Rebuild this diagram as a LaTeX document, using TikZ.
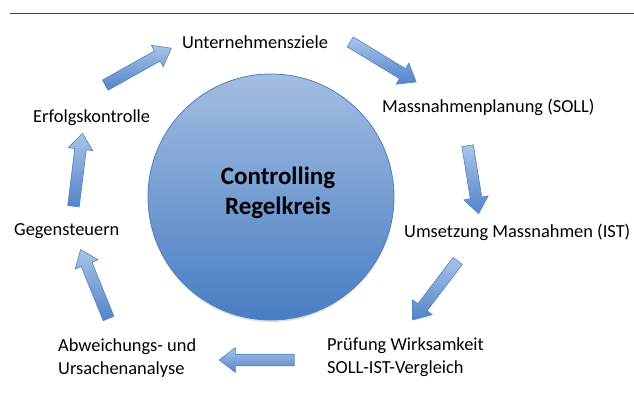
\documentclass[tikz,border=0pt]{standalone}
\usepackage{fontspec}
\setmainfont{Carlito}
\usetikzlibrary{calc,shapes.arrows,shadows}

\definecolor{kreisoben}{HTML}{A3BDE2}
\definecolor{kreisunten}{HTML}{487DC3}
\definecolor{kreisrand}{HTML}{4F81BD}
\definecolor{pfeilhell}{HTML}{A9C4E8}
\definecolor{pfeildunkel}{HTML}{5283C9}
\definecolor{pfeilrand}{HTML}{5282BF}

\begin{document}
\begin{tikzpicture}[x=1pt,y=-1pt,
    stage/.style={font=\fontsize{18.4}{22.5}\selectfont, inner sep=0pt, align=left, anchor=west},
    pfeil/.style={single arrow, draw=pfeilrand, line width=0.6pt,
      top color=pfeilhell, bottom color=pfeildunkel,
      inner xsep=0pt, inner ysep=5.5pt,
      single arrow head extend=6.5pt, single arrow tip angle=75}]
  \useasboundingbox (0,0) rectangle (634,401);
  \draw[line width=1pt, black!75] (10,14) -- (634,14);

  % Kreis in der Mitte
  \node[circle, minimum size=246pt, draw=kreisrand, line width=0.8pt,
    top color=kreisoben, bottom color=kreisunten,
    drop shadow={shadow xshift=0pt, shadow yshift=-2pt, opacity=0.25}] (kreis) at (271,197) {};
  \node[font=\fontsize{25}{30}\selectfont\bfseries, align=center] (titel) at (278,193) {Controlling\\Regelkreis};

  % Stationen
  \node[stage, anchor=center] (ziele) at (255,42) {Unternehmensziele};
  \node[stage] (planung) at (382,107) {Massnahmenplanung (SOLL)};
  \node[stage] (umsetzung) at (404,232) {Umsetzung Massnahmen (IST)};
  \node[stage] (pruefung) at (327,357) {Prüfung Wirksamkeit\\SOLL-IST-Vergleich};
  \node[stage] (analyse) at (58,358) {Abweichungs- und\\Ursachenanalyse};
  \node[stage] (gegen) at (14,231) {Gegensteuern};
  \node[stage] (erfolg) at (33,118) {Erfolgskontrolle};

  % Pfeile: Anfang p.. und Spitze q..
  \coordinate (p1) at (102,87);  \coordinate (q1) at (168,50);
  \coordinate (p2) at (347,40);  \coordinate (q2) at (413,80);
  \coordinate (p3) at (467,142); \coordinate (q3) at (478,210);
  \coordinate (p4) at (460,258); \coordinate (q4) at (415,317);
  \coordinate (p5) at (298,360); \coordinate (q5) at (223,360);
  \coordinate (p6) at (110,322); \coordinate (q6) at (82,253);
  \coordinate (p7) at (73,210);  \coordinate (q7) at (82,137);

  \foreach \i in {1,...,7}
    \path let \p1=($(q\i)-(p\i)$), \n1={atan2(\y1,\x1)}, \n2={veclen(\x1,\y1)} in
      node[pfeil, rotate=\n1, minimum height=\n2] (pfeil\i) at ($(p\i)!0.5!(q\i)$) {};
\end{tikzpicture}
\end{document}
